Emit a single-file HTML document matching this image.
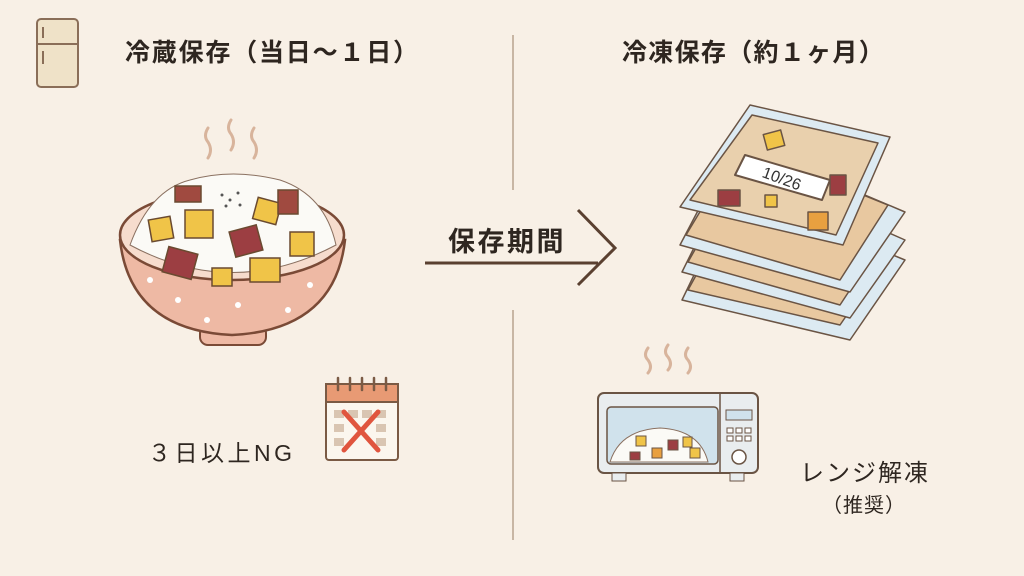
<!DOCTYPE html>
<html><head><meta charset="utf-8"><style>
body{margin:0;width:1024px;height:576px;background:#f8f0e6;overflow:hidden;font-family:"Liberation Sans","Noto Sans CJK JP",sans-serif;}
svg{position:absolute;left:0;top:0}
.t{position:absolute;color:#2e2620;white-space:nowrap}
</style></head><body>
<svg width="1024" height="576" viewBox="0 0 1024 576">
<line x1="513" y1="35" x2="513" y2="190" stroke="#c8b6a4" stroke-width="2"/>
<line x1="513" y1="310" x2="513" y2="540" stroke="#c8b6a4" stroke-width="2"/>
<rect x="37" y="19" width="41" height="68" rx="4" fill="#efe2c8" stroke="#8a6e58" stroke-width="2"/>
<line x1="37" y1="44" x2="78" y2="44" stroke="#8a6e58" stroke-width="2"/>
<line x1="43" y1="27" x2="43" y2="38" stroke="#8a6e58" stroke-width="2"/>
<line x1="43" y1="51" x2="43" y2="64" stroke="#8a6e58" stroke-width="2"/>
<g fill="none" stroke="#d8b49c" stroke-width="3" stroke-linecap="round">
<path d="M208 128 q-5 8 0 14 q5 8 0 16"/><path d="M231 120 q-5 8 0 14 q5 8 0 16"/><path d="M254 128 q-5 8 0 14 q5 8 0 16"/>
<path d="M648 348 q-5 7 0 12 q5 7 0 13"/><path d="M668 345 q-5 7 0 12 q5 7 0 13"/><path d="M688 348 q-5 7 0 12 q5 7 0 13"/>
</g>
<rect x="200" y="325" width="66" height="20" rx="8" fill="#eeb9a4" stroke="#7a4a36" stroke-width="2"/>
<path d="M120 240 Q130 330 232 335 Q335 330 345 240 Z" fill="#eeb9a4" stroke="#7a4a36" stroke-width="2.5"/>
<ellipse cx="232" cy="235" rx="112" ry="45" fill="#f6dccd" stroke="#7a4a36" stroke-width="2.5"/>
<path d="M130 245 Q150 190 190 180 Q232 168 280 180 Q325 195 336 245 Q232 300 130 245 Z" fill="#fbfaf6" stroke="#8a7060" stroke-width="1"/>
<g fill="#fff"><circle cx="178" cy="300" r="3"/><circle cx="207" cy="320" r="3"/><circle cx="238" cy="305" r="3"/><circle cx="288" cy="310" r="3"/><circle cx="310" cy="285" r="3"/><circle cx="150" cy="280" r="3"/></g>
<g stroke="#6a4a30" stroke-width="1.5">
<rect x="150" y="218" width="22" height="22" fill="#f0c448" transform="rotate(-10 161 229)"/>
<rect x="185" y="210" width="28" height="28" fill="#f0c448"/>
<rect x="255" y="200" width="24" height="22" fill="#f0c448" transform="rotate(15 267 211)"/>
<rect x="290" y="232" width="24" height="24" fill="#f0c448"/>
<rect x="250" y="258" width="30" height="24" fill="#f0c448"/>
<rect x="212" y="268" width="20" height="18" fill="#f0c448"/>
<rect x="232" y="228" width="28" height="26" fill="#9c3e42" transform="rotate(-15 246 241)"/>
<rect x="165" y="250" width="30" height="26" fill="#9c3e42" transform="rotate(15 180 263)"/>
<rect x="175" y="186" width="26" height="16" fill="#a04a40"/>
<rect x="278" y="190" width="20" height="24" fill="#a04a40"/>
</g>
<g fill="#555"><circle cx="222" cy="195" r="1.5"/><circle cx="230" cy="200" r="1.5"/><circle cx="238" cy="193" r="1.5"/><circle cx="226" cy="206" r="1.5"/><circle cx="240" cy="205" r="1.5"/></g>
<rect x="326" y="384" width="72" height="76" rx="3" fill="#fbf6ee" stroke="#7a5a44" stroke-width="2"/>
<rect x="326" y="384" width="72" height="18" fill="#e89a74" stroke="#7a5a44" stroke-width="2"/>
<g stroke="#7a5a44" stroke-width="2.5" stroke-linecap="round"><line x1="338" y1="378" x2="338" y2="390"/><line x1="350" y1="378" x2="350" y2="390"/><line x1="362" y1="378" x2="362" y2="390"/><line x1="374" y1="378" x2="374" y2="390"/><line x1="386" y1="378" x2="386" y2="390"/></g>
<g fill="#d9c5b2"><rect x="334" y="410" width="10" height="8"/><rect x="348" y="410" width="10" height="8"/><rect x="362" y="410" width="10" height="8"/><rect x="376" y="410" width="10" height="8"/><rect x="334" y="424" width="10" height="8"/><rect x="376" y="424" width="10" height="8"/><rect x="334" y="438" width="10" height="8"/><rect x="376" y="438" width="10" height="8"/></g>
<g stroke="#e0553e" stroke-width="5" stroke-linecap="round"><line x1="344" y1="412" x2="378" y2="450"/><line x1="378" y1="412" x2="344" y2="450"/></g>
<line x1="425" y1="263" x2="598" y2="263" stroke="#5a4030" stroke-width="3"/>
<polyline points="578,210 615,248 578,285" fill="none" stroke="#5a4030" stroke-width="3"/>
<g stroke="#6a5444" stroke-width="1.5" stroke-linejoin="round">
<polygon points="682,300 735,190 905,260 850,340" fill="#dceaf2"/>
<polygon points="688,290 740,195 888,255 840,325" fill="#e8c8a0"/>
<polygon points="682,272 735,165 905,240 850,318" fill="#dceaf2"/>
<polygon points="688,262 740,170 888,232 840,305" fill="#e8c8a0"/>
<polygon points="680,245 735,140 905,212 850,292" fill="#dceaf2"/>
<polygon points="686,235 740,145 888,205 840,280" fill="#e8c8a0"/>
<polygon points="680,207 750,105 890,137 843,245" fill="#dceaf2"/>
<polygon points="690,200 752,115 878,143 836,235" fill="#e9d0ad"/>
<polygon points="735,175 745,155 830,180 822,200" fill="#fff" stroke-width="2"/>
<rect x="765" y="132" width="18" height="16" fill="#f0c448" transform="rotate(-15 774 140)"/>
<rect x="830" y="175" width="16" height="20" fill="#9c3e42"/>
<rect x="718" y="190" width="22" height="16" fill="#9c3e42"/>
<rect x="808" y="212" width="20" height="18" fill="#e8a040"/>
<rect x="765" y="195" width="12" height="12" fill="#f0c448"/>
</g>
<text x="782" y="184" font-family="Liberation Sans" font-size="16" fill="#333" text-anchor="middle" transform="rotate(20 782 178)">10/26</text>
<rect x="598" y="393" width="160" height="80" rx="6" fill="#e9edef" stroke="#6a5444" stroke-width="2"/>
<rect x="607" y="407" width="111" height="57" rx="4" fill="#d0e2ec" stroke="#6a5444" stroke-width="1.5"/>
<line x1="720" y1="393" x2="720" y2="473" stroke="#6a5444" stroke-width="1.5"/>
<rect x="726" y="410" width="26" height="10" fill="#d0e2ec" stroke="#6a5444"/>
<g fill="#fff" stroke="#6a5444"><rect x="727" y="428" width="6" height="5"/><rect x="736" y="428" width="6" height="5"/><rect x="745" y="428" width="6" height="5"/><rect x="727" y="436" width="6" height="5"/><rect x="736" y="436" width="6" height="5"/><rect x="745" y="436" width="6" height="5"/></g>
<circle cx="739" cy="457" r="7" fill="#fff" stroke="#6a5444" stroke-width="1.5"/>
<rect x="612" y="473" width="14" height="8" fill="#e9edef" stroke="#6a5444"/><rect x="730" y="473" width="14" height="8" fill="#e9edef" stroke="#6a5444"/>
<path d="M610 462 Q620 430 660 428 Q700 430 708 462 Z" fill="#fbfaf6" stroke="#8a7060"/>
<g stroke="#6a5444"><rect x="636" y="436" width="10" height="10" fill="#f0c448"/><rect x="668" y="440" width="10" height="10" fill="#9c3e42"/><rect x="652" y="448" width="10" height="10" fill="#e8a040"/><rect x="630" y="452" width="10" height="8" fill="#9c3e42"/><rect x="690" y="448" width="10" height="10" fill="#f0c448"/><rect x="683" y="437" width="9" height="10" fill="#f0c448"/></g>
</svg>
<div class="t" style="left:125px;top:33px;font-size:25px;font-weight:bold;letter-spacing:1.8px">冷蔵保存（当日〜１日）</div>
<div class="t" style="left:622px;top:33px;font-size:25px;font-weight:bold;letter-spacing:1.3px">冷凍保存（約１ヶ月）</div>
<div class="t" style="left:448px;top:220px;font-size:27px;font-weight:bold;letter-spacing:2.5px">保存期間</div>
<div class="t" style="left:148px;top:434px;font-size:23px;letter-spacing:3.5px">３日以上NG</div>
<div class="t" style="left:800px;top:453px;font-size:24px;letter-spacing:2px">レンジ解凍</div>
<div class="t" style="left:822px;top:489px;font-size:20px;letter-spacing:1px">（推奨）</div>
</body></html>
